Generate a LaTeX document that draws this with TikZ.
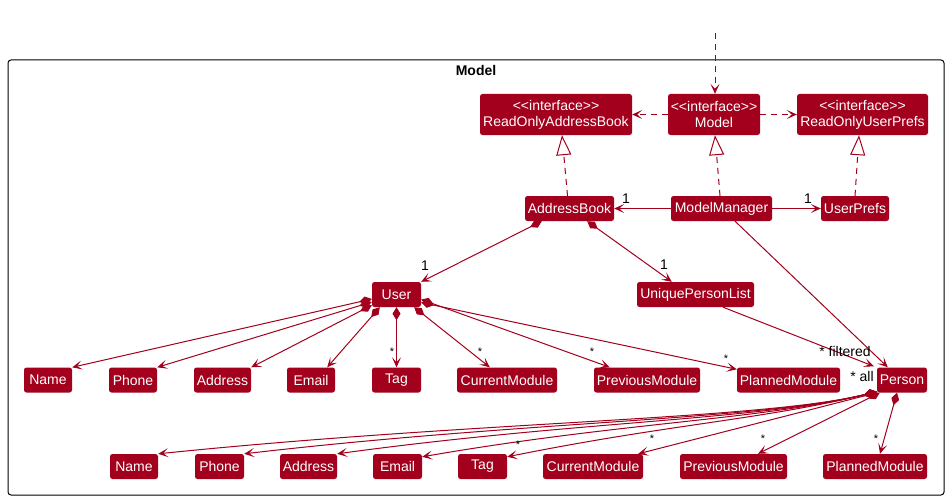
\documentclass[tikz,border=0pt]{standalone}
\usepackage{fontspec}
\setmainfont{Liberation Sans}
\usetikzlibrary{arrows.meta,calc}
\definecolor{cRed}{HTML}{A2001C}
\begin{document}
\begin{tikzpicture}[x=1pt,y=-1pt,
  cls/.style={fill=cRed,text=white,rounded corners=2.5pt,inner sep=0pt,minimum height=25pt,font=\fontsize{14}{16}\selectfont},
  ifc/.style={cls,minimum height=41pt,align=center},
  conn/.style={draw=cRed,line width=1pt},
  arr/.style={conn,-{Stealth[length=10pt,width=9pt,inset=5pt]}},
  dep/.style={arr,dash pattern=on 6pt off 5pt},
  real/.style={conn,dash pattern=on 6pt off 5pt,-{Triangle[open,length=20pt,width=15pt,fill=white]}},
  comp/.style={conn,{Diamond[length=13pt,width=8pt]}-{Stealth[length=10pt,width=9pt,inset=5pt]}},
  mult/.style={font=\fontsize{14}{16}\selectfont,inner sep=0pt},
  star/.style={font=\fontsize{11}{12}\selectfont,inner sep=0pt}
]
\useasboundingbox (0,0) rectangle (949,500);
% package frame
\draw[black,line width=1pt,rounded corners=3pt] (8,60) rectangle (944,495);
\node[font=\bfseries\fontsize{14}{16}\selectfont] (pkgtitle) at (476,70) {Model};

% interfaces
\node[ifc,minimum width=152pt] (roab) at (556,114.5) {<{}<interface>{}>\\ReadOnlyAddressBook};
\node[ifc,minimum width=92pt] (model) at (714,114.5) {<{}<interface>{}>\\Model};
\node[ifc,minimum width=131pt] (roup) at (862.5,114.5) {<{}<interface>{}>\\ReadOnlyUserPrefs};

% classes
\node[cls,minimum width=89pt] (ab) at (569.5,208.5) {AddressBook};
\node[cls,minimum width=101pt] (mm) at (721.5,208.5) {ModelManager};
\node[cls,minimum width=68pt] (up) at (855,208.5) {UserPrefs};
\node[cls,minimum width=49pt] (user) at (396.5,294.5) {User};
\node[cls,minimum width=117pt] (upl) at (695.5,294.5) {UniquePersonList};

% row 1
\node[cls,minimum width=48pt] (n1) at (48,380) {Name};
\node[cls,minimum width=48pt] (p1) at (133,380) {Phone};
\node[cls,minimum width=57pt] (a1) at (222.5,380) {Address};
\node[cls,minimum width=48pt] (e1) at (311,380) {Email};
\node[cls,minimum width=49pt] (t1) at (396.5,380) {Tag};
\node[cls,minimum width=100pt] (c1) at (507,380) {CurrentModule};
\node[cls,minimum width=106pt] (pr1) at (647,380) {PreviousModule};
\node[cls,minimum width=103pt] (pl1) at (788.5,380) {PlannedModule};
\node[cls,minimum width=50pt] (person) at (902,380) {Person};

% row 2
\node[cls,minimum width=48pt] (n2) at (134,466.5) {Name};
\node[cls,minimum width=49pt] (p2) at (219.5,466.5) {Phone};
\node[cls,minimum width=57pt] (a2) at (308.5,466.5) {Address};
\node[cls,minimum width=49pt] (e2) at (397.5,466.5) {Email};
\node[cls,minimum width=49pt] (t2) at (482.5,466.5) {Tag};
\node[cls,minimum width=100pt] (c2) at (593,466.5) {CurrentModule};
\node[cls,minimum width=107pt] (pr2) at (733.5,466.5) {PreviousModule};
\node[cls,minimum width=104pt] (pl2) at (875,466.5) {PlannedModule};

% dependencies
\coordinate (topin) at (715,33);
\draw[dep] (topin) -- ($(model.north)+(1,0)$);
\draw[dep] (model.west) -- (roab.east);
\draw[dep] (model.east) -- (roup.west);

% realizations
\draw[real] ($(ab.north)+(-2,0)$) -- ($(roab.south)+(6,0)$);
\draw[real] ($(mm.north)+(-1.5,0)$) -- ($(model.south)+(1,0)$);
\draw[real] (up.north) -- ($(roup.south)+(-3.5,0)$);

% associations
\draw[arr] (mm.west) -- (ab.east);
\node[mult] (m1) at (626,199) {1};
\draw[arr] (mm.east) -- (up.west);
\node[mult] (m2) at (808,199) {1};
\draw[arr] ($(mm.south)+(13.5,0)$) -- ($(person.north west)+(11,0)$);
\draw[arr] ($(upl.south)+(27.5,0)$) -- ($(person.north west)+(-3,-1)$);
\node[mult] (mf) at (845,351) {* filtered};
\node[mult] (ma) at (862,376) {* all};

% compositions from AddressBook
\draw[comp] ($(ab.south west)+(17,0)$) -- (user.north east);
\node[mult] (m3) at (425,266) {1};
\draw[comp] ($(ab.south east)+(-27,0)$) -- ($(upl.north west)+(35,0)$);
\node[mult] (m4) at (664,265) {1};

% compositions from User
\draw[comp] ($(user.west)+(0,4.5)$) -- (n1.north east);
\draw[comp] ($(user.west)+(0,7.5)$) -- (p1.north east);
\draw[comp] ($(user.south west)+(0,-2)$) -- (a1.north east);
\draw[comp] ($(user.south west)+(8,0)$) -- ($(e1.north east)+(-8,0)$);
\draw[comp] (user.south) -- (t1.north);
\draw[comp] ($(user.south east)+(-7,0)$) -- ($(c1.north west)+(33,0)$);
\draw[comp] ($(user.east)+(0,5)$) -- ($(pr1.north west)+(16,0)$);
\draw[comp] ($(user.east)+(0,8)$) -- ($(pl1.north west)+(0,2)$);
\node[star] (s1) at (392,352) {*};
\node[star] (s2) at (480,352) {*};
\node[star] (s3) at (592,352) {*};
\node[star] (s4) at (726,359) {*};

% compositions from Person
\draw[comp] ($(person.south west)+(0,-1)$) .. controls (760,420) and (478,421) .. (n2.north east);
\draw[comp] ($(person.south west)+(0,-1)$) .. controls (760,420) and (526,421) .. (p2.north east);
\draw[comp] ($(person.south west)+(0,-1)$) .. controls (760,420) and (577,421) .. (a2.north east);
\draw[comp] ($(person.south west)+(0,-1)$) .. controls (760,420) and (623,422) .. ($(e2.north east)+(0,3)$);
\draw[comp] ($(person.south west)+(0,-1)$) .. controls (760,420) and (670,424) .. ($(t2.north east)+(0,3)$);
\draw[comp] (person.south west) -- ($(c2.north east)+(-5,0)$);
\draw[comp] ($(person.south west)+(3,0)$) -- ($(pr2.north)+(24.5,0)$);
\draw[comp] ($(person.south)+(-5,0)$) -- ($(pl2.north)+(5,0)$);
\node[star] (s5) at (518,445) {*};
\node[star] (s6) at (652,439) {*};
\node[star] (s7) at (763,439) {*};
\node[star] (s8) at (876,439) {*};
\end{tikzpicture}
\end{document}
